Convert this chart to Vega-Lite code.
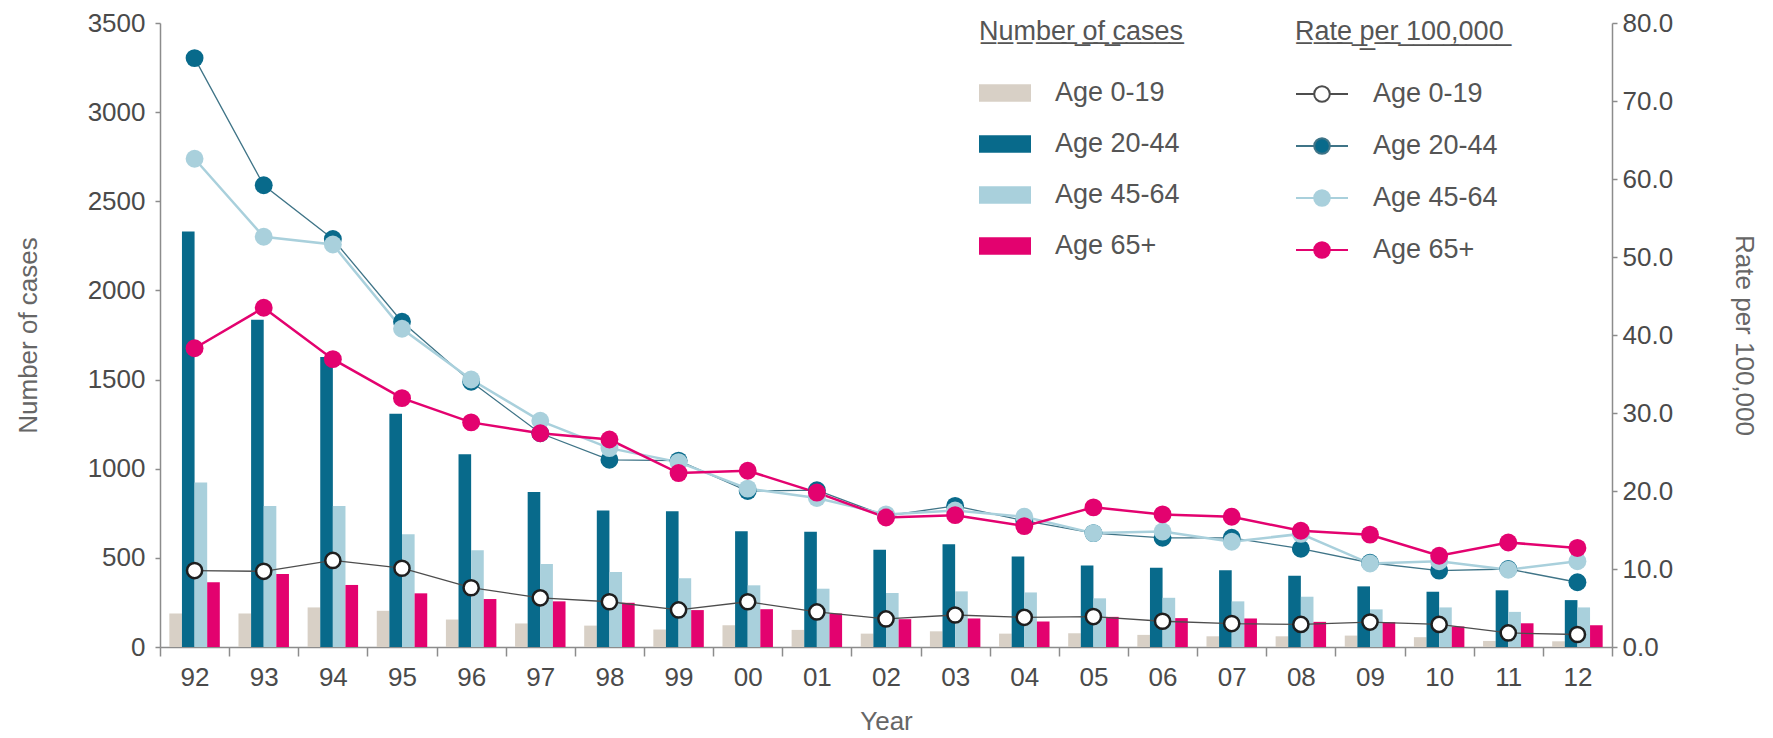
{
  "$schema": "https://vega.github.io/schema/vega-lite/v6.json",
  "width": 1452,
  "height": 624,
  "autosize": {"type": "none"},
  "padding": {"left": 160, "top": 23, "right": 161, "bottom": 91},
  "background": "white",
  "config": {
    "view": {"stroke": null},
    "font": "Liberation Sans",
    "axis": {
      "labelFont": "Liberation Sans",
      "titleFont": "Liberation Sans",
      "labelFontSize": 26,
      "labelColor": "#4a4a4a",
      "titleFontSize": 26,
      "titleFontWeight": "normal",
      "titleColor": "#666666",
      "domainColor": "#8c8c8c",
      "tickColor": "#8c8c8c",
      "domainWidth": 1.5,
      "tickWidth": 1.5,
      "grid": false
    },
    "legend": {
      "labelFont": "Liberation Sans",
      "titleFont": "Liberation Sans",
      "labelFontSize": 27,
      "titleFontSize": 27,
      "titleFontWeight": "normal",
      "titleColor": "#555555",
      "labelColor": "#555555",
      "padding": 0,
      "orient": "none",
      "direction": "vertical",
      "symbolSize": 2704,
      "labelOffset": 24,
      "rowPadding": 12,
      "titlePadding": 21,
      "titleLimit": 400,
      "labelLimit": 300
    }
  },
  "data": {
    "values": [
      {"year": "92", "group": "Age 0-19", "cases": 188, "rate": 9.8},
      {"year": "92", "group": "Age 20-44", "cases": 2330, "rate": 75.5},
      {"year": "92", "group": "Age 45-64", "cases": 923, "rate": 62.6},
      {"year": "92", "group": "Age 65+", "cases": 363, "rate": 38.3},
      {"year": "93", "group": "Age 0-19", "cases": 188, "rate": 9.7},
      {"year": "93", "group": "Age 20-44", "cases": 1835, "rate": 59.2},
      {"year": "93", "group": "Age 45-64", "cases": 791, "rate": 52.6},
      {"year": "93", "group": "Age 65+", "cases": 410, "rate": 43.5},
      {"year": "94", "group": "Age 0-19", "cases": 222, "rate": 11.1},
      {"year": "94", "group": "Age 20-44", "cases": 1627, "rate": 52.3},
      {"year": "94", "group": "Age 45-64", "cases": 791, "rate": 51.6},
      {"year": "94", "group": "Age 65+", "cases": 348, "rate": 36.9},
      {"year": "95", "group": "Age 0-19", "cases": 203, "rate": 10.1},
      {"year": "95", "group": "Age 20-44", "cases": 1308, "rate": 41.7},
      {"year": "95", "group": "Age 45-64", "cases": 632, "rate": 40.8},
      {"year": "95", "group": "Age 65+", "cases": 301, "rate": 31.9},
      {"year": "96", "group": "Age 0-19", "cases": 154, "rate": 7.6},
      {"year": "96", "group": "Age 20-44", "cases": 1081, "rate": 34.0},
      {"year": "96", "group": "Age 45-64", "cases": 543, "rate": 34.3},
      {"year": "96", "group": "Age 65+", "cases": 269, "rate": 28.8},
      {"year": "97", "group": "Age 0-19", "cases": 132, "rate": 6.3},
      {"year": "97", "group": "Age 20-44", "cases": 870, "rate": 27.4},
      {"year": "97", "group": "Age 45-64", "cases": 466, "rate": 29.0},
      {"year": "97", "group": "Age 65+", "cases": 256, "rate": 27.4},
      {"year": "98", "group": "Age 0-19", "cases": 120, "rate": 5.8},
      {"year": "98", "group": "Age 20-44", "cases": 765, "rate": 24.0},
      {"year": "98", "group": "Age 45-64", "cases": 421, "rate": 25.5},
      {"year": "98", "group": "Age 65+", "cases": 248, "rate": 26.6},
      {"year": "99", "group": "Age 0-19", "cases": 98, "rate": 4.75},
      {"year": "99", "group": "Age 20-44", "cases": 761, "rate": 23.9},
      {"year": "99", "group": "Age 45-64", "cases": 385, "rate": 23.7},
      {"year": "99", "group": "Age 65+", "cases": 207, "rate": 22.3},
      {"year": "00", "group": "Age 0-19", "cases": 122, "rate": 5.8},
      {"year": "00", "group": "Age 20-44", "cases": 649, "rate": 20.0},
      {"year": "00", "group": "Age 45-64", "cases": 346, "rate": 20.3},
      {"year": "00", "group": "Age 65+", "cases": 212, "rate": 22.6},
      {"year": "01", "group": "Age 0-19", "cases": 96, "rate": 4.5},
      {"year": "01", "group": "Age 20-44", "cases": 647, "rate": 20.1},
      {"year": "01", "group": "Age 45-64", "cases": 327, "rate": 19.1},
      {"year": "01", "group": "Age 65+", "cases": 188, "rate": 19.8},
      {"year": "02", "group": "Age 0-19", "cases": 75, "rate": 3.6},
      {"year": "02", "group": "Age 20-44", "cases": 545, "rate": 16.8},
      {"year": "02", "group": "Age 45-64", "cases": 303, "rate": 17.0},
      {"year": "02", "group": "Age 65+", "cases": 156, "rate": 16.6},
      {"year": "03", "group": "Age 0-19", "cases": 88, "rate": 4.1},
      {"year": "03", "group": "Age 20-44", "cases": 577, "rate": 18.1},
      {"year": "03", "group": "Age 45-64", "cases": 312, "rate": 17.5},
      {"year": "03", "group": "Age 65+", "cases": 160, "rate": 16.9},
      {"year": "04", "group": "Age 0-19", "cases": 75, "rate": 3.8},
      {"year": "04", "group": "Age 20-44", "cases": 508, "rate": 16.2},
      {"year": "04", "group": "Age 45-64", "cases": 306, "rate": 16.7},
      {"year": "04", "group": "Age 65+", "cases": 143, "rate": 15.5},
      {"year": "05", "group": "Age 0-19", "cases": 77, "rate": 3.9},
      {"year": "05", "group": "Age 20-44", "cases": 457, "rate": 14.6},
      {"year": "05", "group": "Age 45-64", "cases": 273, "rate": 14.6},
      {"year": "05", "group": "Age 65+", "cases": 169, "rate": 17.9},
      {"year": "06", "group": "Age 0-19", "cases": 68, "rate": 3.3},
      {"year": "06", "group": "Age 20-44", "cases": 444, "rate": 14.0},
      {"year": "06", "group": "Age 45-64", "cases": 276, "rate": 14.8},
      {"year": "06", "group": "Age 65+", "cases": 162, "rate": 17.0},
      {"year": "07", "group": "Age 0-19", "cases": 60, "rate": 3.0},
      {"year": "07", "group": "Age 20-44", "cases": 430, "rate": 14.0},
      {"year": "07", "group": "Age 45-64", "cases": 256, "rate": 13.5},
      {"year": "07", "group": "Age 65+", "cases": 160, "rate": 16.7},
      {"year": "08", "group": "Age 0-19", "cases": 60, "rate": 2.9},
      {"year": "08", "group": "Age 20-44", "cases": 400, "rate": 12.6},
      {"year": "08", "group": "Age 45-64", "cases": 282, "rate": 14.5},
      {"year": "08", "group": "Age 65+", "cases": 141, "rate": 14.9},
      {"year": "09", "group": "Age 0-19", "cases": 64, "rate": 3.2},
      {"year": "09", "group": "Age 20-44", "cases": 340, "rate": 10.8},
      {"year": "09", "group": "Age 45-64", "cases": 211, "rate": 10.7},
      {"year": "09", "group": "Age 65+", "cases": 139, "rate": 14.4},
      {"year": "10", "group": "Age 0-19", "cases": 55, "rate": 2.9},
      {"year": "10", "group": "Age 20-44", "cases": 310, "rate": 9.8},
      {"year": "10", "group": "Age 45-64", "cases": 222, "rate": 11.0},
      {"year": "10", "group": "Age 65+", "cases": 115, "rate": 11.7},
      {"year": "11", "group": "Age 0-19", "cases": 34, "rate": 1.8},
      {"year": "11", "group": "Age 20-44", "cases": 318, "rate": 10.0},
      {"year": "11", "group": "Age 45-64", "cases": 197, "rate": 9.9},
      {"year": "11", "group": "Age 65+", "cases": 133, "rate": 13.4},
      {"year": "12", "group": "Age 0-19", "cases": 32, "rate": 1.6},
      {"year": "12", "group": "Age 20-44", "cases": 263, "rate": 8.3},
      {"year": "12", "group": "Age 45-64", "cases": 222, "rate": 11.0},
      {"year": "12", "group": "Age 65+", "cases": 122, "rate": 12.7}
    ]
  },
  "encoding": {
    "x": {
      "field": "year",
      "type": "ordinal",
      "sort": null,
      "scale": {"paddingInner": 0, "paddingOuter": 0},
      "axis": {
        "title": "Year",
        "labelAngle": 0,
        "tickBand": "extent",
        "tickSize": 9,
        "labelPadding": 8,
        "titlePadding": 18
      }
    }
  },
  "layer": [
    {
      "mark": {"type": "bar"},
      "encoding": {
        "xOffset": {
          "field": "group",
          "type": "nominal",
          "sort": ["Age 0-19", "Age 20-44", "Age 45-64", "Age 65+"],
          "scale": {"paddingInner": 0, "paddingOuter": 0.74}
        },
        "y": {
          "field": "cases",
          "type": "quantitative",
          "scale": {"domain": [0, 3500], "nice": false},
          "axis": {
            "orient": "left",
            "title": "Number of cases",
            "values": [0, 500, 1000, 1500, 2000, 2500, 3000, 3500],
            "format": "d",
            "tickSize": 5,
            "labelPadding": 10,
            "titlePadding": 46
          }
        },
        "color": {
          "field": "group",
          "type": "nominal",
          "scale": {
            "domain": ["Age 0-19", "Age 20-44", "Age 45-64", "Age 65+"],
            "range": ["#d8d0c6", "#086a8b", "#a9d0dc", "#e3026f"]
          },
          "legend": {
            "title": "N\u0332u\u0332m\u0332b\u0332e\u0332r\u0332 \u0332o\u0332f\u0332 \u0332c\u0332a\u0332s\u0332e\u0332s\u0332",
            "symbolType": "M-1,-0.34H1V0.34H-1Z",
            "symbolStrokeWidth": 0,
            "legendX": 819,
            "legendY": -4
          }
        }
      }
    },
    {
      "layer": [
        {
          "mark": {"type": "line"},
          "encoding": {
            "y": {
              "field": "rate",
              "type": "quantitative",
              "scale": {"domain": [0, 80], "nice": false},
              "axis": {
                "orient": "right",
                "title": "Rate per 100,000",
                "values": [0, 10, 20, 30, 40, 50, 60, 70, 80],
                "format": ".1f",
                "tickSize": 5,
                "labelPadding": 5,
                "titlePadding": 58
              }
            },
            "stroke": {
              "field": "group",
              "type": "nominal",
              "scale": {
                "range": ["#4d4d4d", "#3f7487", "#a9d0dc", "#e3026f"]
              },
              "legend": {
                "title": "R\u0332a\u0332t\u0332e\u0332 \u0332p\u0332e\u0332r\u0332 \u03321\u03320\u03320\u0332,\u03320\u03320\u03320\u0332",
                "symbolType": "M-1,0H-0.3M0.3,0H1M-0.3,0A0.3,0.3,0,1,1,0.3,0A0.3,0.3,0,1,1,-0.3,0Z",
                "symbolStrokeWidth": 2,
                "legendX": 1135,
                "legendY": -4,
                "encode": {
                  "symbols": {
                    "update": {
                      "fill": {"scale": "fill", "field": "value"},
                      "fillOpacity": {"value": 1}
                    }
                  }
                }
              }
            },
            "strokeWidth": {
              "condition": {"test": "datum.group == 'Age 45-64' || datum.group == 'Age 65+'", "value": 2.5},
              "value": 1.3
            }
          }
        },
        {
          "mark": {"type": "point", "filled": true, "opacity": 1},
          "encoding": {
            "y": {"field": "rate", "type": "quantitative"},
            "fill": {
              "field": "group",
              "type": "nominal",
              "scale": {
                "range": ["#ffffff", "#086a8b", "#a9d0dc", "#e3026f"]
              },
              "legend": null
            },
            "size": {
              "condition": {"test": "datum.group == 'Age 0-19'", "value": 230},
              "value": 320
            },
            "stroke": {"value": "#1e1e1e"},
            "strokeWidth": {
              "condition": {"test": "datum.group == 'Age 0-19'", "value": 2.5},
              "value": 0
            }
          }
        }
      ]
    }
  ],
  "resolve": {"scale": {"y": "independent"}, "axis": {"y": "independent"}}
}
